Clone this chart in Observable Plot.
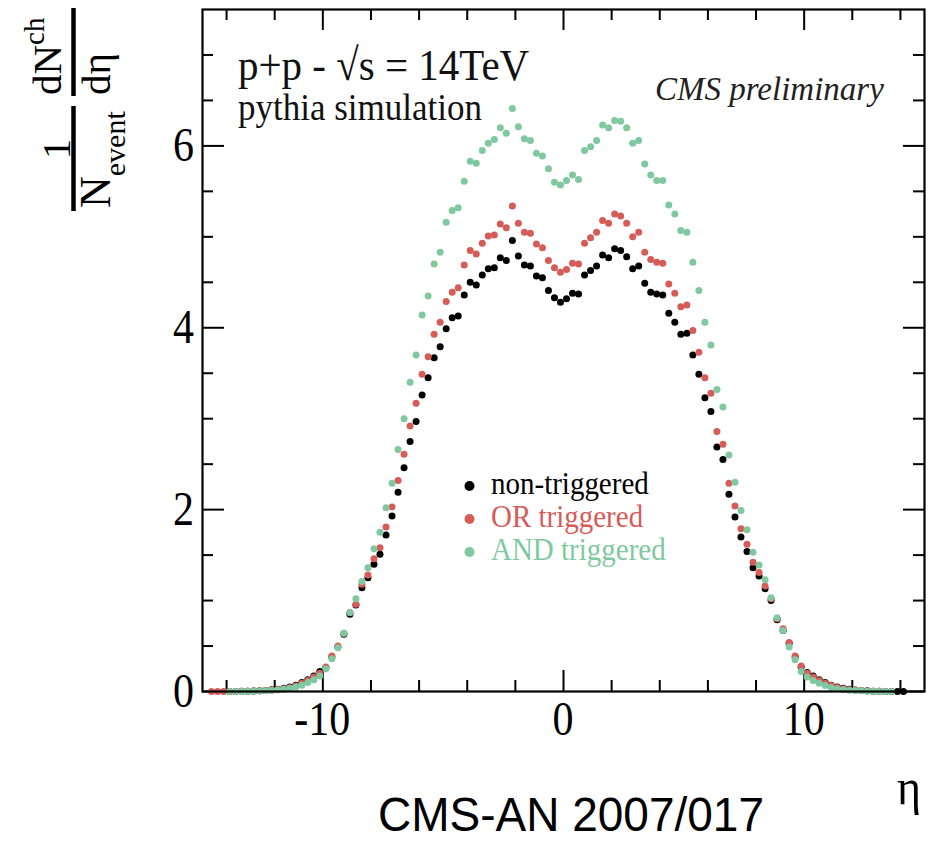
<!DOCTYPE html>
<html><head><meta charset="utf-8">
<script src="https://cdn.jsdelivr.net/npm/d3@7"></script>
<script src="https://cdn.jsdelivr.net/npm/@observablehq/plot@0.6"></script>
<style>body{margin:0;background:#fff}</style>
</head><body><div id="chart"></div>
<script>
// ---- data (bin centres every 0.25 in eta) ----
const binWidth = 0.25;
const nonTrigStart = -13.875;
const nonTriggered = [0,0.001,0.002,0.003,0.005,0.008,0.012,0.018,0.025,0.035,0.05,0.07,0.10,0.13,0.17,0.22,
 0.26,0.38,0.49,0.63,0.85,0.95,1.14,1.25,1.40,1.51,1.72,1.93,2.19,2.46,2.75,2.97,3.26,3.45,3.67,3.79,
 3.99,4.11,4.13,4.36,4.50,4.47,4.58,4.65,4.66,4.77,4.74,4.96,4.79,4.69,4.68,4.57,4.55,4.41,4.33,4.28,
 4.32,4.38,4.37,4.58,4.63,4.68,4.80,4.77,4.87,4.85,4.78,4.65,4.68,4.49,4.39,4.37,4.36,4.16,4.06,3.93,
 3.94,3.70,3.49,3.23,3.08,2.69,2.55,2.17,1.92,1.70,1.54,1.36,1.27,1.13,1.00,0.79,0.67,0.53,0.38,0.27,
 0.21,0.17,0.13,0.10,0.07,0.05,0.035,0.025,0.017,0.011,0.007,0.004,0.002,0.001,0,0,0];
const orTrigStart = -14.625;
const orTriggered = [0,0,0,0,0.001,0.002,0.003,0.005,0.007,0.01,0.015,0.02,0.03,0.04,0.06,0.09,0.12,0.16,0.20,
 0.27,0.39,0.50,0.64,0.87,0.96,1.18,1.28,1.46,1.58,1.81,2.03,2.32,2.61,2.92,3.17,3.49,3.68,3.93,4.06,
 4.29,4.39,4.44,4.69,4.85,4.81,4.93,5.01,5.02,5.14,5.10,5.34,5.15,5.05,5.04,4.92,4.88,4.74,4.66,4.61,
 4.64,4.71,4.70,4.93,4.99,5.05,5.18,5.15,5.25,5.23,5.15,5.00,5.05,4.83,4.75,4.72,4.71,4.48,4.38,4.23,
 4.25,3.97,3.73,3.45,3.28,2.86,2.72,2.29,2.04,1.79,1.62,1.42,1.31,1.16,1.02,0.80,0.69,0.54,0.39,0.28,
 0.20,0.16,0.12,0.09,0.065,0.045,0.03,0.02,0.014,0.01,0.006,0.004,0.002,0.001];
const andTrigStart = -13.875;
const andTriggered = [0,0.001,0.001,0.002,0.003,0.005,0.008,0.012,0.018,0.025,0.035,0.05,0.07,0.10,0.13,0.17,
 0.25,0.36,0.48,0.64,0.87,1.02,1.21,1.36,1.57,1.75,2.02,2.29,2.66,3.00,3.40,3.70,4.14,4.35,4.70,4.83,
 5.16,5.29,5.32,5.61,5.83,5.81,5.95,6.03,6.07,6.20,6.14,6.41,6.21,6.08,6.06,5.92,5.89,5.75,5.60,5.57,
 5.62,5.68,5.63,5.95,5.99,6.06,6.23,6.20,6.28,6.27,6.20,6.03,6.06,5.80,5.68,5.62,5.62,5.35,5.25,5.07,
 5.05,4.72,4.41,4.06,3.81,3.32,3.13,2.60,2.30,1.99,1.78,1.53,1.39,1.23,1.03,0.81,0.67,0.49,0.35,0.22,
 0.16,0.12,0.09,0.065,0.045,0.03,0.02,0.014,0.01,0.007,0.004,0.002,0.001,0.001,0];
const seriesNames = ["non-triggered", "OR triggered", "AND triggered"];
const seriesColors = ["#000000", "#d65c58", "#80c8a0"];
const xMajorTicks = [-10, 0, 10];
const xMinorTicks = [-14, -12, -8, -6, -4, -2, 2, 4, 6, 8, 12, 14];
const xTickLabels = ["-10", "0", "10"];
const yMajorTicks = [0, 2, 4, 6];
const yMinorTicks = [0.5, 1, 1.5, 2.5, 3, 3.5, 4.5, 5, 5.5, 6.5, 7];
const yTickLabels = ["0", "2", "4", "6"];

// ---- build table ----
const seriesData = [[nonTrigStart, nonTriggered], [orTrigStart, orTriggered], [andTrigStart, andTriggered]];
const rows = [];
seriesData.forEach(([start, vals], s) => vals.forEach((v, i) => rows.push({eta: start + i * binWidth, value: v, series: seriesNames[s]})));

const W = 928, H = 842, mL = 202, mR = 4, mT = 9, mB = 151;
const innerW = W - mL - mR, innerH = H - mT - mB;
const majorLen = 21, minorLen = 11;

const svg = Plot.plot({
  width: W, height: H,
  marginLeft: mL, marginRight: mR, marginTop: mT, marginBottom: mB,
  x: {domain: [-15, 15], axis: null},
  y: {domain: [0, 7.5], axis: null},
  color: {domain: seriesNames, range: seriesColors},
  marks: [
    Plot.tickX(xMajorTicks, {x: d => d, insetTop: innerH - majorLen, stroke: "#000", strokeWidth: 2}),
    Plot.tickX(xMajorTicks, {x: d => d, insetBottom: innerH - majorLen, stroke: "#000", strokeWidth: 2}),
    Plot.tickX(xMinorTicks, {x: d => d, insetTop: innerH - minorLen, stroke: "#000", strokeWidth: 2}),
    Plot.tickX(xMinorTicks, {x: d => d, insetBottom: innerH - minorLen, stroke: "#000", strokeWidth: 2}),
    Plot.tickY(yMajorTicks, {y: d => d, insetRight: innerW - majorLen - 1, stroke: "#000", strokeWidth: 2}),
    Plot.tickY(yMajorTicks, {y: d => d, insetLeft: innerW - majorLen, stroke: "#000", strokeWidth: 2}),
    Plot.tickY(yMinorTicks, {y: d => d, insetRight: innerW - minorLen, stroke: "#000", strokeWidth: 2}),
    Plot.tickY(yMinorTicks, {y: d => d, insetLeft: innerW - minorLen, stroke: "#000", strokeWidth: 2}),
    Plot.dot(rows, {x: "eta", y: "value", fill: "series", r: 3.5}),
    Plot.frame({stroke: "#000", strokeWidth: 2.2})
  ]
});
document.getElementById("chart").appendChild(svg);

const xs = svg.scale("x"), ys = svg.scale("y");
const root = d3.select(svg);
function addText(g, {x, y, text, size, family = "Liberation Serif", anchor = "start", sx = 1, sy = 1, fill = "#000", fstyle = "normal"}) {
  return g.append("text")
    .attr("transform", `translate(${x},${y}) scale(${sx},${sy})`)
    .attr("text-anchor", anchor)
    .style("font-family", family).style("font-size", size + "px").style("font-style", fstyle)
    .style("fill", fill)
    .text(text);
}
// tick labels
xMajorTicks.forEach((t, i) => addText(root, {x: xs.apply(t), y: H - mB + 44, text: xTickLabels[i], size: 42, anchor: "middle", sy: 1.15}));
yMajorTicks.forEach((t, i) => addText(root, {x: mL - 8, y: ys.apply(t) + 16, text: yTickLabels[i], size: 42, anchor: "end", sy: 1.15}));

// annotations
addText(root, {x: 238, y: 80, text: "p+p - \u221As = 14TeV", size: 41, sy: 1.1, fill: "#111"});
addText(root, {x: 238, y: 120, text: "pythia simulation", size: 35, sy: 1.1, fill: "#111"});
addText(root, {x: 655, y: 100, text: "CMS preliminary", size: 33, fstyle: "italic", fill: "#222"});
addText(root, {x: 909, y: 804, text: "\u03B7", size: 46, anchor: "middle", sy: 1.1});
addText(root, {x: 571, y: 831, text: "CMS-AN 2007/017", size: 46, family: "Liberation Sans", anchor: "middle", sy: 1.05});

// legend
seriesNames.forEach((name, i) => {
  const yy = 486 + i * 33;
  root.append("circle").attr("cx", 469.5).attr("cy", yy).attr("r", 5).style("fill", seriesColors[i]);
  addText(root, {x: 491, y: yy + 7.5, text: name, size: 29, sy: 1.1, fill: seriesColors[i]});
});

// y-axis label: (1 / N_event) (dN_ch / d eta), rotated
const yl = root.append("g").attr("transform", "translate(73.5,0) rotate(-90)");
yl.append("line").attr("x1", -96).attr("x2", -8).attr("y1", 0).attr("y2", 0).style("stroke", "#000").style("stroke-width", 4.5);
yl.append("line").attr("x1", -211).attr("x2", -106).attr("y1", 0).attr("y2", 0).style("stroke", "#000").style("stroke-width", 4.5);
const num = addText(yl, {x: -95, y: -13, text: "dN", size: 41});
num.append("tspan").attr("dy", -17).style("font-size", "29px").text("ch");
addText(yl, {x: -95, y: 36.5, text: "d\u03B7", size: 41});
addText(yl, {x: -149, y: -4, text: "1", size: 41, anchor: "middle"});
const den = addText(yl, {x: -208, y: 36.5, text: "N", size: 44});
den.append("tspan").attr("dy", 15).style("font-size", "30px").text("event");
</script>
</body></html>
